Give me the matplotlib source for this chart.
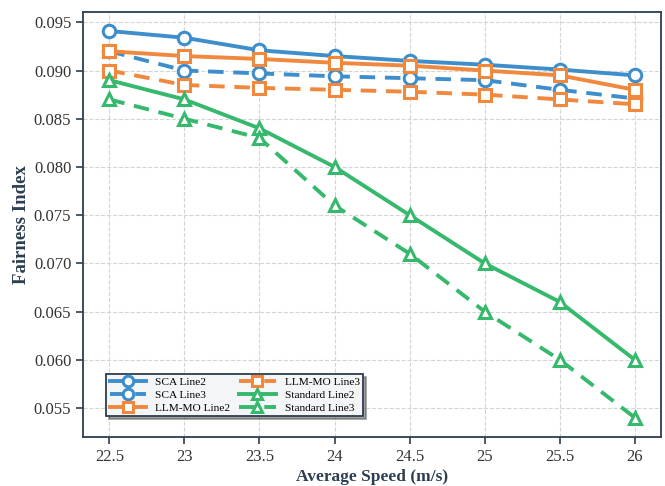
import matplotlib.pyplot as plt

speed = [22.5, 23, 23.5, 24, 24.5, 25, 25.5, 26]

sca_line2 = [0.0941, 0.0934, 0.0921, 0.0915, 0.0910, 0.0906, 0.0901, 0.0895]
sca_line3 = [0.0920, 0.0900, 0.0897, 0.0894, 0.0892, 0.0890, 0.0880, 0.0871]
llm_line2 = [0.0920, 0.0915, 0.0912, 0.0908, 0.0905, 0.0900, 0.0895, 0.0880]
llm_line3 = [0.0900, 0.0885, 0.0882, 0.0880, 0.0878, 0.0875, 0.0870, 0.0865]
std_line2 = [0.0890, 0.0870, 0.0840, 0.0800, 0.0750, 0.0700, 0.0660, 0.0600]
std_line3 = [0.0870, 0.0850, 0.0830, 0.0760, 0.0710, 0.0650, 0.0600, 0.0540]

xticks = ['22.5', '23', '23.5', '24', '24.5', '25', '25.5', '26']

dark = '#2c3e50'
blue = '#3d8ecb'
orange = '#f0883e'
green = '#36b86d'

plt.rcParams['font.family'] = ['Liberation Serif', 'DejaVu Serif']

fig, ax = plt.subplots(figsize=(6.65, 4.86), dpi=100)

style = dict(lw=2.8, ms=9, mew=2.2, mfc='white')
ax.plot(speed, sca_line2, '-', marker='o', color=blue, label='SCA Line2', **style)
ax.plot(speed, sca_line3, '--', marker='o', color=blue, label='SCA Line3', dashes=(4, 2.5), **style)
ax.plot(speed, llm_line2, '-', marker='s', color=orange, label='LLM-MO Line2', **style)
ax.plot(speed, llm_line3, '--', marker='s', color=orange, label='LLM-MO Line3', dashes=(4, 2.5), **style)
ax.plot(speed, std_line2, '-', marker='^', color=green, label='Standard Line2', **style)
ax.plot(speed, std_line3, '--', marker='^', color=green, label='Standard Line3', dashes=(4, 2.5), **style)

ax.set_xticks(speed)
ax.set_xticklabels(xticks)
ax.set_yticks([0.055, 0.060, 0.065, 0.070, 0.075, 0.080, 0.085, 0.090, 0.095])
ax.yaxis.set_major_formatter(plt.FormatStrFormatter('%.3f'))

ax.set_xlabel('Average Speed (m/s)', fontsize=12.5, fontweight='bold', color=dark, labelpad=3)
ax.set_ylabel('Fairness Index', fontsize=13.5, fontweight='bold', color=dark, labelpad=2.5)

ax.grid(True, ls='--', color='#d0d0d0', lw=0.8, alpha=0.9)
ax.set_axisbelow(True)

for s in ax.spines.values():
    s.set_color(dark)
    s.set_linewidth(1.3)
ax.tick_params(axis='both', labelsize=12, colors=dark, length=5, width=1.2)
for lab in ax.get_xticklabels() + ax.get_yticklabels():
    lab.set_color('#333333')

leg = ax.legend(loc='lower left', ncol=2, fontsize=8.2, frameon=True, shadow=True,
                fancybox=False, edgecolor=dark, facecolor='#f4f5f7', framealpha=1,
                handlelength=3.2, markerscale=0.85, columnspacing=0.8, borderpad=0.3,
                labelspacing=0.25, handletextpad=0.8, bbox_to_anchor=(0.03, 0.035))
leg.get_frame().set_linewidth(1.3)

plt.subplots_adjust(left=0.125, right=0.994, top=0.976, bottom=0.101)
plt.savefig('out.png', dpi=100)
